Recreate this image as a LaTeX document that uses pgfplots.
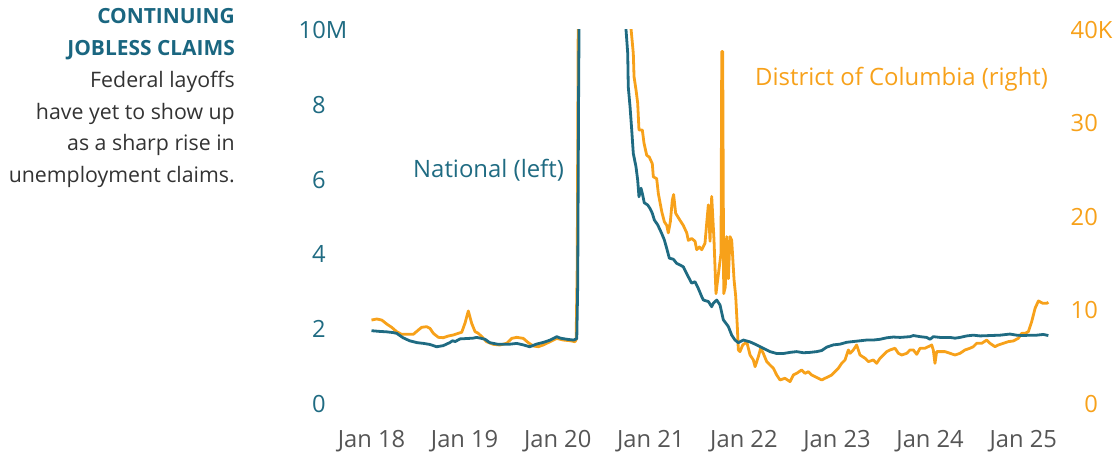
\documentclass[border=0pt]{standalone}
\usepackage{pgfplots}
\pgfplotsset{compat=1.18}
\usepackage{fontspec}
\setmainfont{Open Sans}
\definecolor{teal}{HTML}{1F6B82}
\definecolor{titleblue}{HTML}{1A6680}
\definecolor{orng}{HTML}{F7A11A}
\definecolor{tickgray}{HTML}{555555}
\definecolor{bodytext}{HTML}{333333}
\newcommand{\tfont}{\fontsize{23.8}{28}\selectfont}
\newcommand{\afont}{\fontsize{24}{28}\selectfont}
\newcommand{\bfont}{\fontsize{21.4}{25}\selectfont}
\begin{document}
\begin{tikzpicture}[x=1bp,y=1bp]
\useasboundingbox (0,0) rectangle (1118,457);
% DC (right axis)
\begin{axis}[
  at={(355bp,53bp)}, anchor=south west,
  scale only axis, width=713bp, height=374bp,
  xmin=2017.823, xmax=2025.481, ymin=0, ymax=40,
  hide x axis,
  axis line style={draw=none}, major tick length=0pt,
  yticklabel pos=right,
  ytick={0,10,20,30,40}, yticklabels={0,10,20,30,40\rlap{K}},
  yticklabel style={anchor=east, inner sep=0pt, xshift=30bp, text=orng, font=\tfont},
]
\addplot[orng, line width=2.8bp, line join=round] coordinates {
(2018.00,8.98)(2018.056,9.09)(2018.11,8.98)(2018.163,8.56)(2018.217,8.20)(2018.27,7.74)(2018.324,7.45)(2018.378,7.45)(2018.449,7.45)(2018.503,7.91)(2018.539,8.20)(2018.593,8.27)(2018.628,8.09)(2018.664,7.56)(2018.718,7.13)(2018.771,7.09)(2018.825,7.27)(2018.879,7.38)(2018.932,7.56)(2018.969,7.67)(2019.004,8.63)(2019.04,9.95)(2019.076,8.63)(2019.112,7.74)(2019.147,7.56)(2019.184,7.20)(2019.237,6.66)(2019.308,6.38)(2019.38,6.31)(2019.452,6.49)(2019.506,7.02)(2019.56,7.13)(2019.63,7.02)(2019.684,6.56)(2019.738,6.20)(2019.792,6.13)(2019.845,6.31)(2019.917,6.66)(2019.989,7.02)(2020.06,6.84)(2020.132,6.77)(2020.186,6.66)(2020.198,6.9)(2020.21,15)(2020.22,40)(2020.24,70)(2020.35,95)(2020.5,75)(2020.65,55)(2020.787,40.2)(2020.812,37.5)(2020.82,35.0)(2020.841,33.6)(2020.859,32.2)(2020.873,29.3)(2020.909,29.3)(2020.927,27.9)(2020.956,26.6)(2020.984,26.4)(2021.016,25.7)(2021.027,24.3)(2021.063,24.1)(2021.081,22.5)(2021.117,20.6)(2021.145,19.5)(2021.171,19.1)(2021.188,18.3)(2021.21,19.5)(2021.231,21.8)(2021.245,22.4)(2021.267,20.4)(2021.31,19.7)(2021.349,19.1)(2021.386,18.3)(2021.403,17.5)(2021.439,17.7)(2021.475,17.4)(2021.493,16.5)(2021.521,16.8)(2021.547,16.5)(2021.582,17.2)(2021.60,19.3)(2021.618,21.3)(2021.636,17.4)(2021.654,22.2)(2021.679,17.5)(2021.70,11.8)(2021.736,14.7)(2021.754,16.1)(2021.762,37.7)(2021.772,37.7)(2021.783,11.8)(2021.80,12.5)(2021.815,17.9)(2021.833,13.4)(2021.851,17.9)(2021.869,17.5)(2021.894,13.3)(2021.912,11.5)(2021.929,8.3)(2021.94,5.78)(2021.958,5.60)(2021.987,6.31)(2022.012,6.49)(2022.03,6.67)(2022.066,5.24)(2022.101,4.71)(2022.12,3.99)(2022.155,5.06)(2022.18,5.96)(2022.208,5.42)(2022.245,4.53)(2022.28,4.17)(2022.316,3.82)(2022.352,3.10)(2022.388,2.57)(2022.441,2.75)(2022.495,2.39)(2022.531,3.10)(2022.567,3.28)(2022.62,3.64)(2022.656,3.28)(2022.692,3.46)(2022.728,3.10)(2022.764,2.92)(2022.80,2.75)(2022.836,2.57)(2022.871,2.75)(2022.907,2.92)(2022.943,3.10)(2022.979,3.46)(2023.014,3.82)(2023.05,4.35)(2023.086,4.71)(2023.122,5.78)(2023.14,5.42)(2023.175,5.78)(2023.211,6.31)(2023.247,5.24)(2023.301,4.89)(2023.337,4.53)(2023.39,4.71)(2023.426,4.35)(2023.462,4.89)(2023.498,5.24)(2023.534,5.60)(2023.569,5.78)(2023.623,5.96)(2023.659,5.42)(2023.695,5.24)(2023.749,5.42)(2023.784,5.78)(2023.82,5.78)(2023.856,5.31)(2023.892,5.96)(2023.945,5.96)(2023.98,6.13)(2024.017,6.31)(2024.034,5.78)(2024.052,4.35)(2024.07,5.60)(2024.106,5.60)(2024.16,5.60)(2024.214,5.42)(2024.267,5.24)(2024.321,5.42)(2024.375,5.78)(2024.428,5.96)(2024.464,6.13)(2024.50,6.49)(2024.554,6.49)(2024.608,6.84)(2024.643,6.49)(2024.697,6.13)(2024.732,6.31)(2024.786,6.49)(2024.84,6.67)(2024.893,6.74)(2024.947,7.02)(2024.984,7.56)(2025.02,7.56)(2025.055,7.74)(2025.091,8.81)(2025.127,10.23)(2025.163,11.02)(2025.21,10.77)(2025.253,10.77)(2025.27,10.88)
};
\end{axis}
% National (left axis)
\begin{axis}[
  at={(355bp,53bp)}, anchor=south west,
  scale only axis, width=713bp, height=374bp,
  xmin=2017.823, xmax=2025.481, ymin=0, ymax=10,
  axis line style={draw=none}, major tick length=0pt,
  xtick={2018,2019,2020,2021,2022,2023,2024,2025},
  xticklabels={Jan 18,Jan 19,Jan 20,Jan 21,Jan 22,Jan 23,Jan 24,Jan 25},
  xticklabel style={anchor=north, inner sep=0pt, yshift=-26bp, text=tickgray, font=\tfont},
  ytick={0,2,4,6,8,10}, yticklabels={0,2,4,6,8,10\rlap{M}},
  yticklabel style={anchor=east, inner sep=0pt, xshift=-29bp, text=teal, font=\tfont},
]
\addplot[teal, line width=2.8bp, line join=round] coordinates {
(2018.00,1.96)(2018.09,1.94)(2018.16,1.93)(2018.23,1.91)(2018.27,1.89)(2018.34,1.77)(2018.41,1.69)(2018.49,1.64)(2018.56,1.62)(2018.63,1.59)(2018.70,1.53)(2018.77,1.56)(2018.84,1.64)(2018.87,1.69)(2018.90,1.67)(2018.95,1.74)(2019.02,1.75)(2019.09,1.76)(2019.13,1.78)(2019.17,1.76)(2019.22,1.73)(2019.27,1.64)(2019.35,1.60)(2019.42,1.60)(2019.49,1.60)(2019.56,1.62)(2019.63,1.58)(2019.70,1.53)(2019.77,1.60)(2019.85,1.65)(2019.92,1.71)(2019.99,1.80)(2020.03,1.76)(2020.10,1.73)(2020.17,1.71)(2020.19,1.73)(2020.205,1.75)(2020.215,3.2)(2020.225,8.5)(2020.235,12)(2020.25,17)(2020.30,21)(2020.37,23)(2020.45,18)(2020.55,15)(2020.65,12.5)(2020.734,10.0)(2020.752,9.38)(2020.758,8.48)(2020.777,7.95)(2020.795,7.33)(2020.812,6.70)(2020.841,6.34)(2020.859,5.99)(2020.873,5.54)(2020.895,5.77)(2020.909,5.63)(2020.93,5.38)(2020.967,5.32)(2020.991,5.23)(2021.016,5.10)(2021.038,4.92)(2021.074,4.79)(2021.117,4.56)(2021.145,4.39)(2021.171,4.16)(2021.199,3.90)(2021.242,3.87)(2021.278,3.76)(2021.349,3.67)(2021.403,3.40)(2021.439,3.23)(2021.475,3.27)(2021.51,3.09)(2021.547,2.87)(2021.564,2.78)(2021.618,2.74)(2021.654,2.60)(2021.671,2.69)(2021.708,2.78)(2021.743,2.65)(2021.779,2.25)(2021.833,2.07)(2021.869,1.84)(2021.904,1.71)(2021.94,1.64)(2021.994,1.71)(2022.066,1.66)(2022.137,1.58)(2022.208,1.49)(2022.28,1.40)(2022.352,1.35)(2022.423,1.35)(2022.495,1.38)(2022.567,1.40)(2022.638,1.37)(2022.71,1.38)(2022.782,1.40)(2022.836,1.43)(2022.889,1.52)(2022.96,1.58)(2023.032,1.60)(2023.104,1.65)(2023.175,1.67)(2023.247,1.69)(2023.319,1.71)(2023.39,1.71)(2023.462,1.73)(2023.534,1.77)(2023.605,1.79)(2023.677,1.78)(2023.784,1.80)(2023.82,1.83)(2023.892,1.80)(2023.963,1.78)(2023.999,1.73)(2024.034,1.80)(2024.106,1.78)(2024.214,1.78)(2024.267,1.76)(2024.321,1.78)(2024.393,1.82)(2024.464,1.84)(2024.536,1.82)(2024.643,1.83)(2024.751,1.84)(2024.858,1.87)(2024.93,1.84)(2025.001,1.83)(2025.073,1.84)(2025.145,1.84)(2025.216,1.86)(2025.27,1.83)
};
\end{axis}
% annotations
\node[anchor=base west, inner sep=0pt, text=teal, font=\afont] at (413,279) {National (left)};
\node[anchor=base west, inner sep=0pt, text=orng, font=\afont] at (755,371) {District of Columbia (right)};
% side text
\node[anchor=base east, inner sep=0pt, text=titleblue, font=\fontsize{21}{25}\selectfont\bfseries] at (235,433) {CONTINUING};
\node[anchor=base east, inner sep=0pt, text=titleblue, font=\fontsize{21}{25}\selectfont\bfseries] at (235,401.7) {JOBLESS CLAIMS};
\node[anchor=base east, inner sep=0pt, text=bodytext, font=\bfont] at (235,369) {Federal layoffs};
\node[anchor=base east, inner sep=0pt, text=bodytext, font=\bfont] at (235,337.5) {have yet to show up};
\node[anchor=base east, inner sep=0pt, text=bodytext, font=\bfont] at (235,306.3) {as a sharp rise in};
\node[anchor=base east, inner sep=0pt, text=bodytext, font=\bfont] at (235,274.3) {unemployment claims.};
\end{tikzpicture}
\end{document}
